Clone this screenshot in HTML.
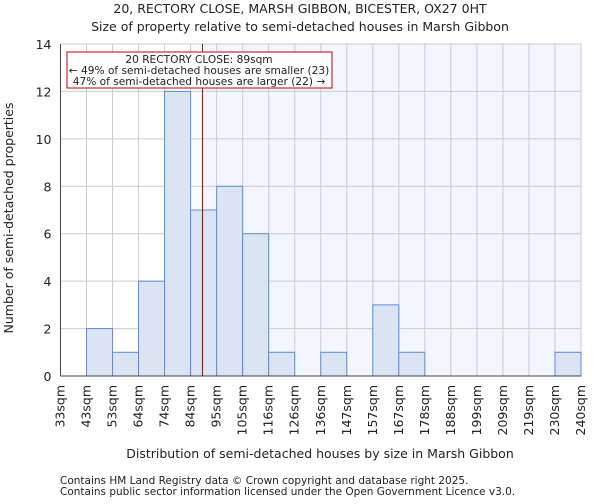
<!DOCTYPE html>
<html><head><meta charset="utf-8"><style>
body{margin:0;background:#fff;font-family:"DejaVu Sans","Liberation Sans",sans-serif;}
svg text{font-family:"DejaVu Sans","Liberation Sans",sans-serif;fill:#222;}
</style></head><body>
<svg id="chart" width="600" height="500" xmlns="http://www.w3.org/2000/svg">
<text x="300" y="13" text-anchor="middle" font-size="12.5">20, RECTORY CLOSE, MARSH GIBBON, BICESTER, OX27 0HT</text>
<text x="300" y="31" text-anchor="middle" font-size="12.5">Size of property relative to semi-detached houses in Marsh Gibbon</text>
<g id="plot"></g>
<text x="320" y="458" text-anchor="middle" font-size="12.5">Distribution of semi-detached houses by size in Marsh Gibbon</text>
<text transform="translate(13,218) rotate(-90)" text-anchor="middle" font-size="12.5">Number of semi-detached properties</text>
<text x="60" y="484" font-size="10.5">Contains HM Land Registry data © Crown copyright and database right 2025.</text>
<text x="60" y="495" font-size="10.5">Contains public sector information licensed under the Open Government Licence v3.0.</text>
</svg>
<script>
const categories = ["33sqm","43sqm","53sqm","64sqm","74sqm","84sqm","95sqm","105sqm","116sqm","126sqm","136sqm","147sqm","157sqm","167sqm","178sqm","188sqm","199sqm","209sqm","219sqm","230sqm","240sqm"];
const counts = [0,2,1,4,12,7,8,6,1,0,1,0,3,1,0,0,0,0,0,1];
const yTicks = [0,2,4,6,8,10,12,14];
const propertySize = 89;
const edgeValues = [33,43,53,64,74,84,95,105,116,126,136,147,157,167,178,188,199,209,219,230,240];

const NS="http://www.w3.org/2000/svg";
const L=60.5,R=581,T=44,B=376,yMax=14;
const nb=counts.length, bw=(R-L)/nb;
const xEdge=i=>L+i*bw;
const y=v=>B-(v/yMax)*(B-T);
function xVal(v){for(let i=0;i<edgeValues.length-1;i++){if(v>=edgeValues[i]&&v<=edgeValues[i+1])return xEdge(i)+(v-edgeValues[i])/(edgeValues[i+1]-edgeValues[i])*bw;}return R;}
const g=document.getElementById('plot');
function mk(t,a){const e=document.createElementNS(NS,t);for(const k in a)e.setAttribute(k,a[k]);g.appendChild(e);return e;}
const px=xVal(propertySize);
let e=mk('rect',{x:px,y:T,width:R-px,height:B-T,fill:'#f3f6fe'});


for(let i=0;i<=nb;i++){e=mk('line',{x1:xEdge(i),x2:xEdge(i),y1:T,y2:B,stroke:'#cccccc','stroke-width':1});

}
yTicks.forEach(v=>{e=mk('line',{x1:L,x2:R,y1:y(v),y2:y(v),stroke:'#cccccc','stroke-width':1});


const t=mk('text',{x:L-9,y:y(v)+5,'text-anchor':'end','font-size':'12.5'});t.textContent=v;

});
counts.forEach((c,i)=>{if(c<=0)return;
const r=mk('rect',{x:xEdge(i),y:y(c),width:bw,height:B-y(c),fill:'#dae4f3',stroke:'#5b8ed6','stroke-width':1});

});
categories.forEach((c,i)=>{const x=xEdge(i)+4;
const t=mk('text',{transform:`translate(${x},385) rotate(-90)`,'text-anchor':'end','font-size':'12.5'});t.textContent=c;

});
e=mk('line',{x1:L,x2:L,y1:T,y2:B,stroke:'#444','stroke-width':1});


e=mk('line',{x1:L,x2:R,y1:B,y2:B,stroke:'#444','stroke-width':1});


e=mk('line',{x1:px,x2:px,y1:T,y2:B,stroke:'#b00000','stroke-width':1});


e=mk('rect',{x:67,y:52,width:265,height:36,fill:'#fff',stroke:'#c00000','stroke-width':1});


[["20 RECTORY CLOSE: 89sqm",63],["← 49% of semi-detached houses are smaller (23)",74],["47% of semi-detached houses are larger (22) →",85]].forEach(([s,yy],k)=>{
const t=mk('text',{x:199,y:yy,'text-anchor':'middle','font-size':'10.6'});t.textContent=s;

});
</script>
</body></html>
